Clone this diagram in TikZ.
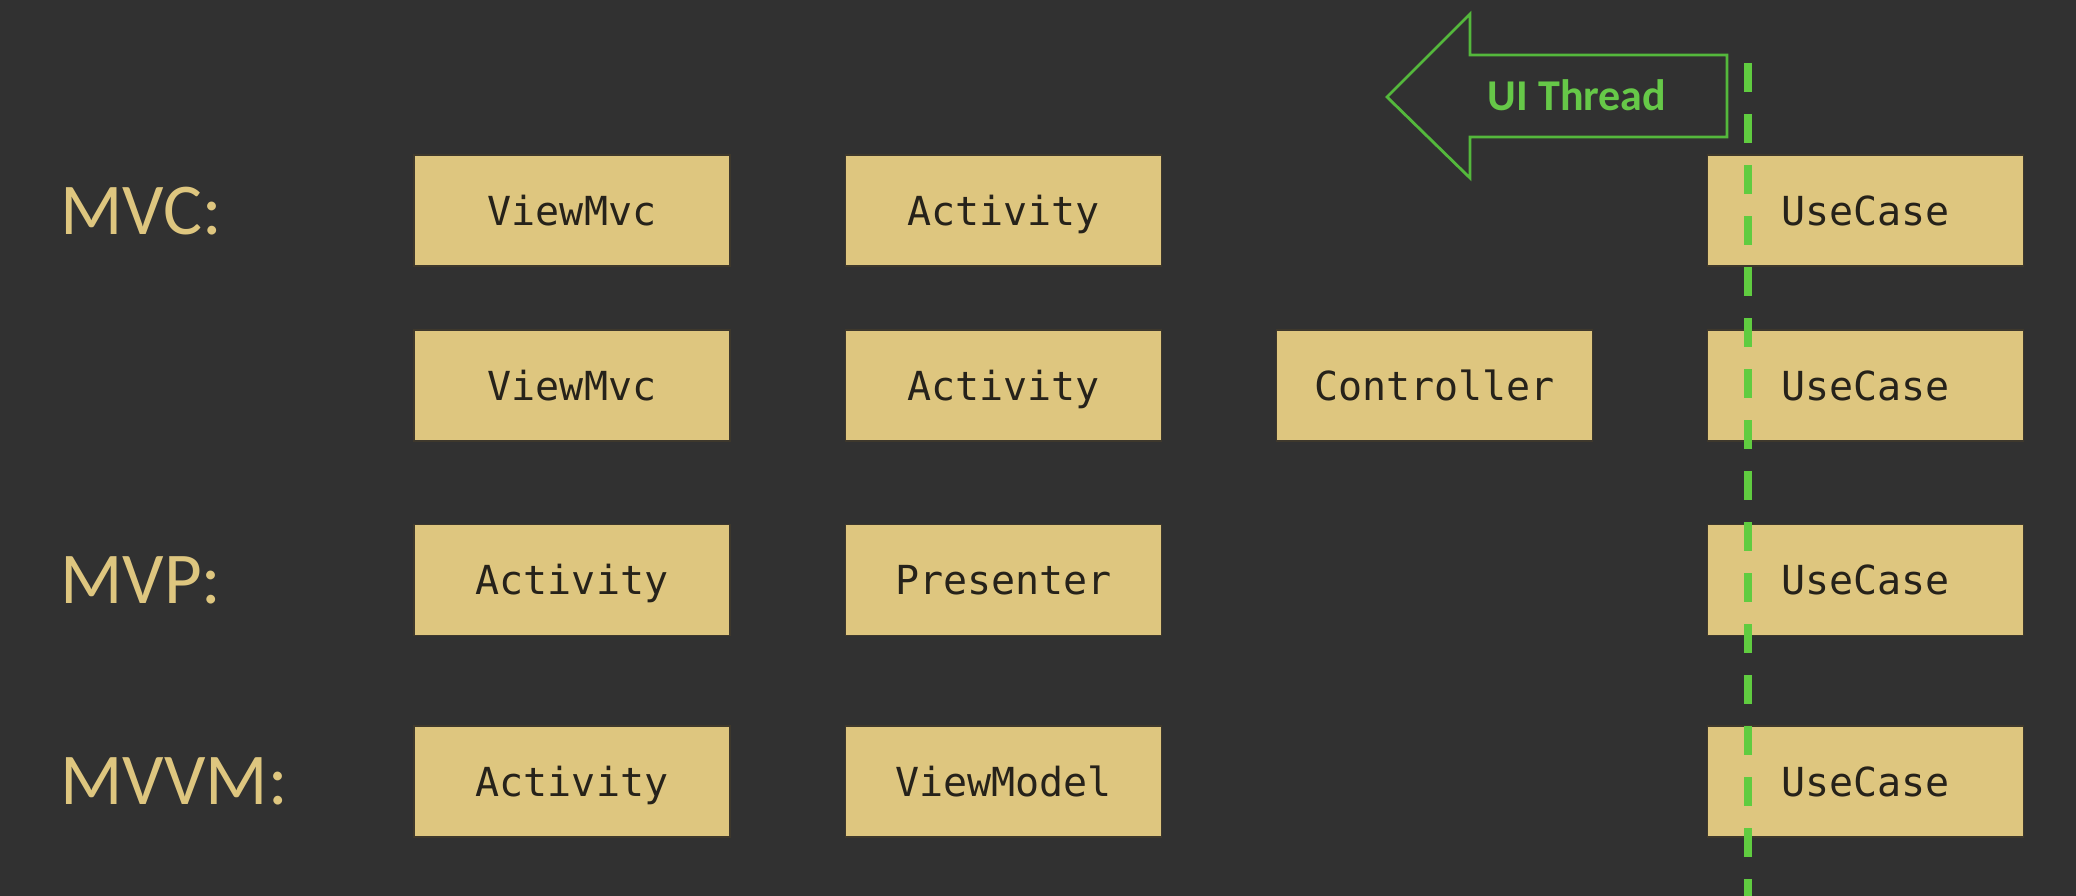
\documentclass[tikz,border=0pt]{standalone}
\usepackage{fontspec}
\setmainfont{Carlito}
\newfontfamily\boxfont{DejaVu Sans Mono}
\definecolor{bgc}{RGB}{49,49,49}
\definecolor{tan}{RGB}{222,198,127}
\definecolor{boxline}{RGB}{62,56,44}
\definecolor{boxtext}{RGB}{38,34,26}
\definecolor{arrowgreen}{RGB}{84,184,60}
\definecolor{textgreen}{RGB}{102,200,72}
\definecolor{dashgreen}{RGB}{96,204,64}
\tikzset{
  block/.style={rectangle, fill=tan, draw=boxline, line width=1.5pt,
    minimum width=316pt, minimum height=111pt, inner sep=0pt,
    text height=29pt, text depth=0pt,
    text=boxtext, font=\boxfont\fontsize{40}{48}\selectfont},
  rowlabel/.style={anchor=west, inner sep=0pt, text=tan,
    font=\fontsize{73}{88}\selectfont},
  threadlabel/.style={inner sep=0pt, text=textgreen,
    text height=28pt, text depth=0pt,
    font=\bfseries\fontsize{44}{53}\selectfont},
  threadarrow/.style={draw=arrowgreen, line width=2.8pt, line join=miter},
  boundary/.style={draw=dashgreen, line width=8pt, dash pattern=on 29pt off 22pt}
}
\begin{document}
\begin{tikzpicture}[x=1pt,y=-1pt]
\fill[bgc] (0,0) rectangle (2076,896);
\useasboundingbox (0,0) rectangle (2076,896);

% row labels
\node[rowlabel] (lmvc) at (60,211) {MVC:};
\node[rowlabel] (lmvp) at (60,580) {MVP:};
\node[rowlabel] (lmvvm) at (60,781.5) {MVVM:};

% boxes
\node[block] (a1) at (572,210.5) {ViewMvc};
\node[block] (a2) at (1003.5,210.5) {Activity};
\node[block] (a4) at (1865.5,210.5) {UseCase};

\node[block] (b1) at (572,385.5) {ViewMvc};
\node[block] (b2) at (1003.5,385.5) {Activity};
\node[block] (b3) at (1434.5,385.5) {Controller};
\node[block] (b4) at (1865.5,385.5) {UseCase};

\node[block] (c1) at (572,580) {Activity};
\node[block] (c2) at (1003.5,580) {Presenter};
\node[block] (c4) at (1865.5,580) {UseCase};

\node[block] (d1) at (572,781.5) {Activity};
\node[block] (d2) at (1003.5,781.5) {ViewModel};
\node[block] (d4) at (1865.5,781.5) {UseCase};

% UI thread arrow
\draw[threadarrow] (1387,97) -- (1470,14) -- (1470,55) -- (1727,55)
  -- (1727,137) -- (1470,137) -- (1470,178) -- cycle;
\node[threadlabel] (ui) at (1577,97) {UI Thread};

% thread boundary
\coordinate (btop) at (1748,63);
\coordinate (bbot) at (1748,900);
\draw[boundary] (btop) -- (bbot);
\end{tikzpicture}
\end{document}
